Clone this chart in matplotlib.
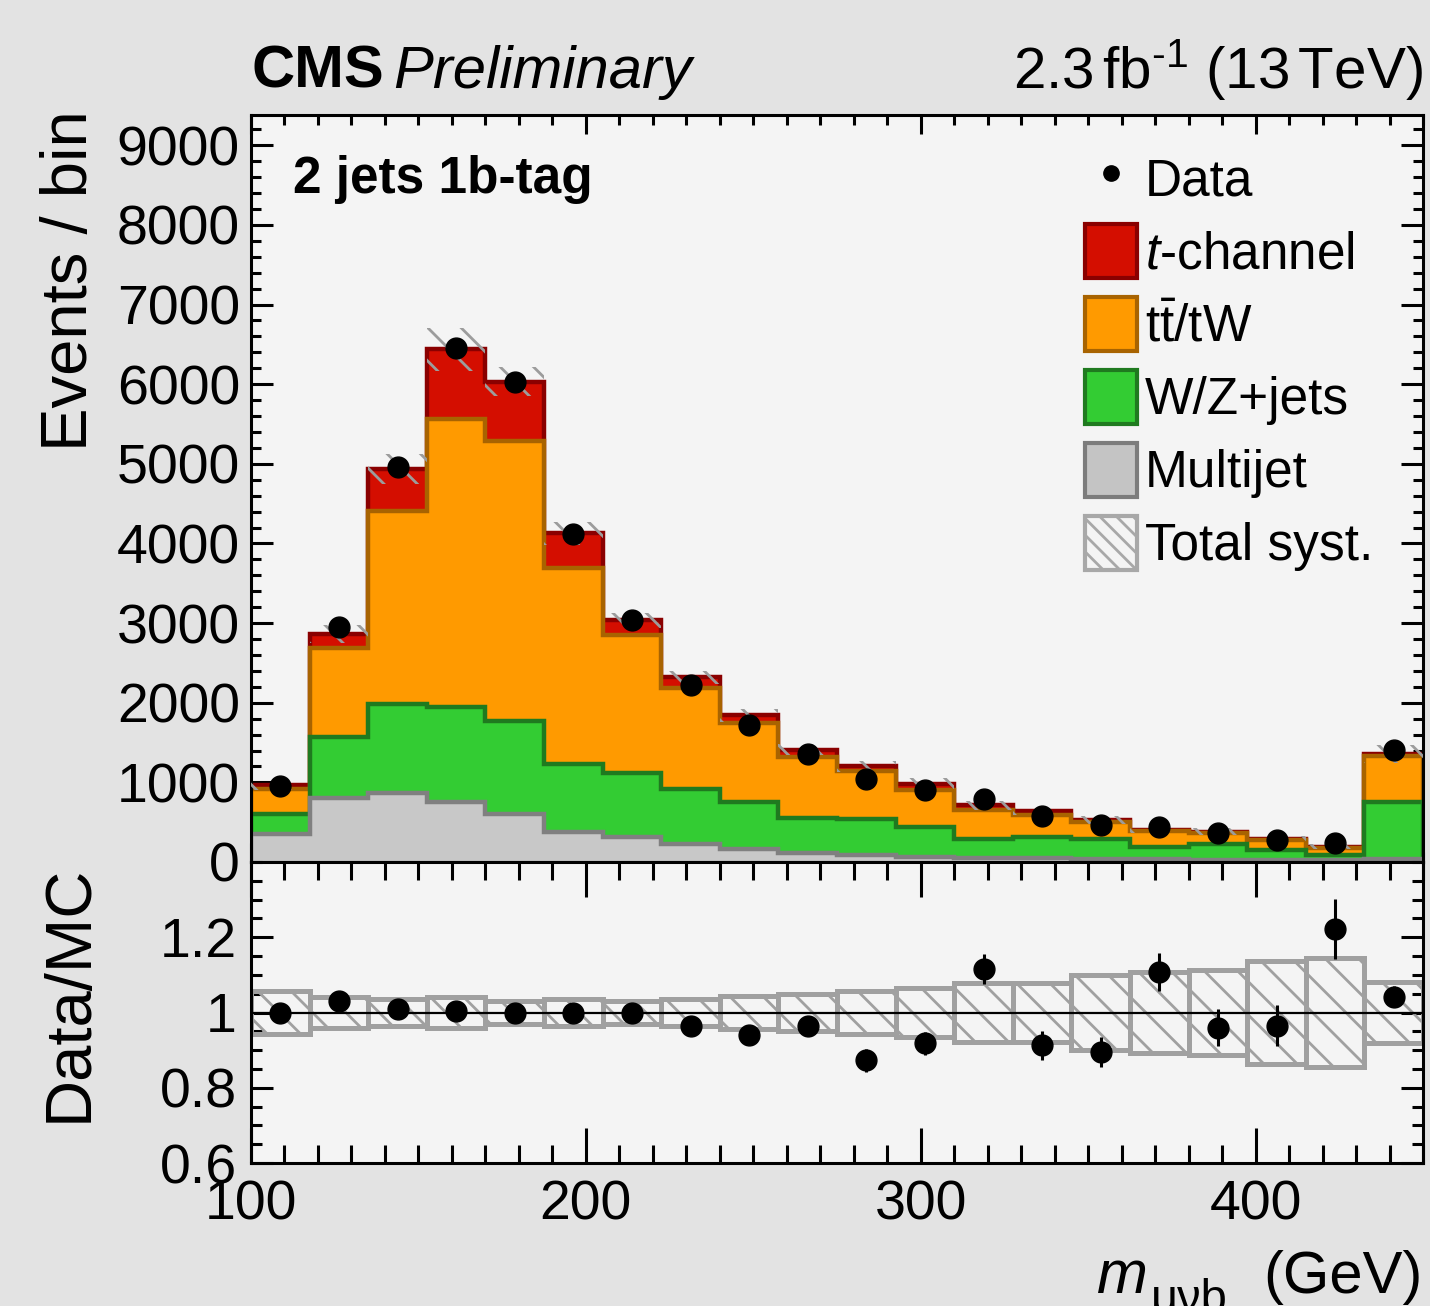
import numpy as np
import matplotlib
matplotlib.use("Agg")
import matplotlib.pyplot as plt
from matplotlib.patches import Patch
from matplotlib.lines import Line2D
from matplotlib.ticker import MultipleLocator, FixedLocator, FixedFormatter

# ---------------- data ----------------
bin_edges = [100 + 17.5 * i for i in range(21)]
multijet = [355, 804, 867, 756, 603, 377, 310, 226, 163, 117, 88, 67, 50, 45, 40, 35, 30, 25, 20, 40]
wzjets = [250, 760, 1123, 1190, 1168, 854, 808, 691, 595, 436, 452, 377, 235, 269, 249, 158, 196, 125, 68, 717]
ttbar = [310, 1124, 2423, 3612, 3518, 2463, 1730, 1269, 988, 770, 607, 461, 368, 276, 211, 197, 139, 130, 92, 573]
tchannel = [50, 176, 522, 882, 741, 431, 187, 134, 94, 87, 53, 80, 57, 50, 25, 15, 15, 12, 13, 25]
data = [960, 2955, 4960, 6460, 6030, 4120, 3040, 2220, 1720, 1360, 1045, 900, 790, 580, 468, 440, 365, 278, 236, 1405]
ratio = [1.0, 1.03, 1.01, 1.005, 1.0, 1.0, 1.0, 0.965, 0.94, 0.965, 0.873, 0.918, 1.116, 0.913, 0.895, 1.107, 0.96, 0.965, 1.222, 1.042]
ratio_err = [0.01, 0.02, 0.015, 0.013, 0.013, 0.016, 0.018, 0.02, 0.024, 0.027, 0.03, 0.03, 0.04, 0.038, 0.041, 0.05, 0.05, 0.055, 0.08, 0.028]
syst_rel = [0.058, 0.04, 0.037, 0.042, 0.03, 0.035, 0.03, 0.036, 0.044, 0.05, 0.057, 0.066, 0.078, 0.078, 0.1, 0.108, 0.112, 0.137, 0.146, 0.08]
ytick_main = [0, 1000, 2000, 3000, 4000, 5000, 6000, 7000, 8000, 9000]
ytick_ratio = [0.6, 0.8, 1.0, 1.2]
ytick_ratio_labels = ["0.6", "0.8", "1", "1.2"]
xtick_vals = [100, 200, 300, 400]

# ---------------- style ----------------
plt.rcParams["font.family"] = ["Liberation Sans", "DejaVu Sans"]
plt.rcParams["mathtext.fontset"] = "custom"
plt.rcParams["mathtext.rm"] = "Liberation Sans"
plt.rcParams["mathtext.it"] = "Liberation Sans:italic"
plt.rcParams["mathtext.bf"] = "Liberation Sans:bold"
plt.rcParams["hatch.linewidth"] = 2.0

W, H = 1430, 1306
DPI = 100
fig = plt.figure(figsize=(W / DPI, H / DPI), dpi=DPI, facecolor="#e3e3e3")

def fx(px):
    return px / W

def fy(py):
    return 1 - py / H

L, R = 251, 1423
ax = fig.add_axes([fx(L), fy(862), fx(R - L), (862 - 115) / H])
rax = fig.add_axes([fx(L), fy(1163), fx(R - L), (1163 - 862) / H], sharex=ax)

for a in (ax, rax):
    a.set_facecolor("#f4f4f4")
    for s in a.spines.values():
        s.set_linewidth(2.2)
        s.set_color("black")

edges = np.array(bin_edges)
centers = 0.5 * (edges[:-1] + edges[1:])
width = edges[1] - edges[0]

mj = np.array(multijet, float)
wz = np.array(wzjets, float)
tt = np.array(ttbar, float)
tc = np.array(tchannel, float)
c1 = mj
c2 = c1 + wz
c3 = c2 + tt
c4 = c3 + tc
total = c4

layers = [
    (c4, "#d40e00", "#8a0000"),
    (c3, "#ff9a00", "#a86300"),
    (c2, "#33cc33", "#1f7a1f"),
    (c1, "#c8c8c8", "#808080"),
]
for cum, fc, ec in layers:
    ax.stairs(cum, edges, baseline=0, fill=True, color=fc, lw=0, zorder=2)
    ax.stairs(cum, edges, baseline=0, fill=False, color=ec, lw=3.2, zorder=2)

syst = np.array(syst_rel)
ax.bar(centers, 2 * total * syst, bottom=total * (1 - syst), width=width,
       fill=False, hatch="\\", edgecolor="#9c9c9c", linewidth=0, zorder=3)

ax.plot(centers, data, "o", color="black", ms=15, zorder=5)

ax.set_xlim(100, 450)
ax.set_ylim(0, 9380)

# main ticks
ax.yaxis.set_major_locator(FixedLocator(ytick_main))
ax.yaxis.set_minor_locator(MultipleLocator(200))
ax.xaxis.set_major_locator(MultipleLocator(100))
ax.xaxis.set_minor_locator(MultipleLocator(10))
ax.tick_params(axis="both", which="both", direction="in", top=True, right=True, width=2.2, color="black")
ax.tick_params(axis="x", which="major", length=14)
ax.tick_params(axis="x", which="minor", length=7)
ax.tick_params(axis="y", which="major", length=16)
ax.tick_params(axis="y", which="minor", length=7.5)
ax.tick_params(axis="y", labelsize=40, pad=8)
ax.tick_params(axis="x", labelbottom=False)

# ratio
rbars = np.array(syst_rel)
rax.bar(centers, 2 * rbars, bottom=1 - rbars, width=width, fill=False,
        hatch="\\", edgecolor="#a0a0a0", linewidth=3.6, zorder=2)
rax.axhline(1.0, color="black", lw=1.6, zorder=3)
rax.errorbar(centers, ratio, yerr=ratio_err, fmt="o", color="black", ms=15,
             elinewidth=2.2, capsize=0, zorder=5)
rax.set_ylim(0.6, 1.4)
rax.yaxis.set_major_locator(FixedLocator(ytick_ratio))
rax.yaxis.set_major_formatter(FixedFormatter(ytick_ratio_labels))
rax.yaxis.set_minor_locator(MultipleLocator(0.05))
rax.xaxis.set_major_locator(FixedLocator(xtick_vals))
rax.xaxis.set_minor_locator(MultipleLocator(10))
rax.tick_params(axis="both", which="both", direction="in", top=True, right=True, width=2.2, color="black")
rax.tick_params(axis="x", which="major", length=25)
rax.tick_params(axis="x", which="minor", length=13)
rax.tick_params(axis="y", which="major", length=16)
rax.tick_params(axis="y", which="minor", length=8)
rax.tick_params(axis="y", labelsize=40, pad=10)
rax.tick_params(axis="x", labelsize=40, pad=12)

# axis titles
fig.text(fx(70), fy(110), "Events / bin", rotation=90, ha="center", va="top", fontsize=47)
fig.text(fx(70), fy(865), "Data/MC", rotation=90, ha="center", va="top", fontsize=47)
fig.text(fx(1423), fy(1293), "(GeV)", ha="right", va="baseline", fontsize=43)
fig.text(fx(1097), fy(1293), "m", fontstyle="italic", ha="left", va="baseline", fontsize=44)
fig.text(fx(1151), fy(1311), "\u03bc\u03bdb", ha="left", va="baseline", fontsize=34)

# header texts
fig.text(fx(252), fy(88), "CMS", fontweight="bold", fontsize=43, ha="left", va="baseline")
fig.text(fx(393), fy(88), "Preliminary", fontstyle="italic", fontsize=43, ha="left", va="baseline")
fig.text(fx(1423), fy(88), r"2.3$\,$fb$^{\text{-}1}$ (13$\,$TeV)", fontsize=42, ha="right", va="baseline")
fig.text(fx(293), fy(193), "2 jets 1b-tag", fontweight="bold", fontsize=37, ha="left", va="baseline")

# legend
handles = [
    Line2D([], [], marker="o", color="black", ls="none", ms=11),
    Patch(facecolor="#d40e00", edgecolor="#8a0000", lw=3),
    Patch(facecolor="#ff9a00", edgecolor="#a86300", lw=3),
    Patch(facecolor="#33cc33", edgecolor="#1f7a1f", lw=3),
    Patch(facecolor="#c4c4c4", edgecolor="#7c7c7c", lw=3),
    Patch(facecolor="none", edgecolor="#a8a8a8", lw=3, hatch="\\\\"),
]
labels = ["Data", r"$t$-channel", r"$\mathrm{t\bar{t}}$/tW", "W/Z+jets", "Multijet", "Total syst."]
fig.legend(handles, labels, loc="upper left", bbox_to_anchor=(fx(1085), fy(151)),
           bbox_transform=fig.transFigure, frameon=False, fontsize=37,
           handlelength=1.01, handleheight=1.24, labelspacing=0.345,
           handletextpad=0.16, borderpad=0, borderaxespad=0)

fig.savefig("out.png", dpi=DPI, facecolor=fig.get_facecolor())
